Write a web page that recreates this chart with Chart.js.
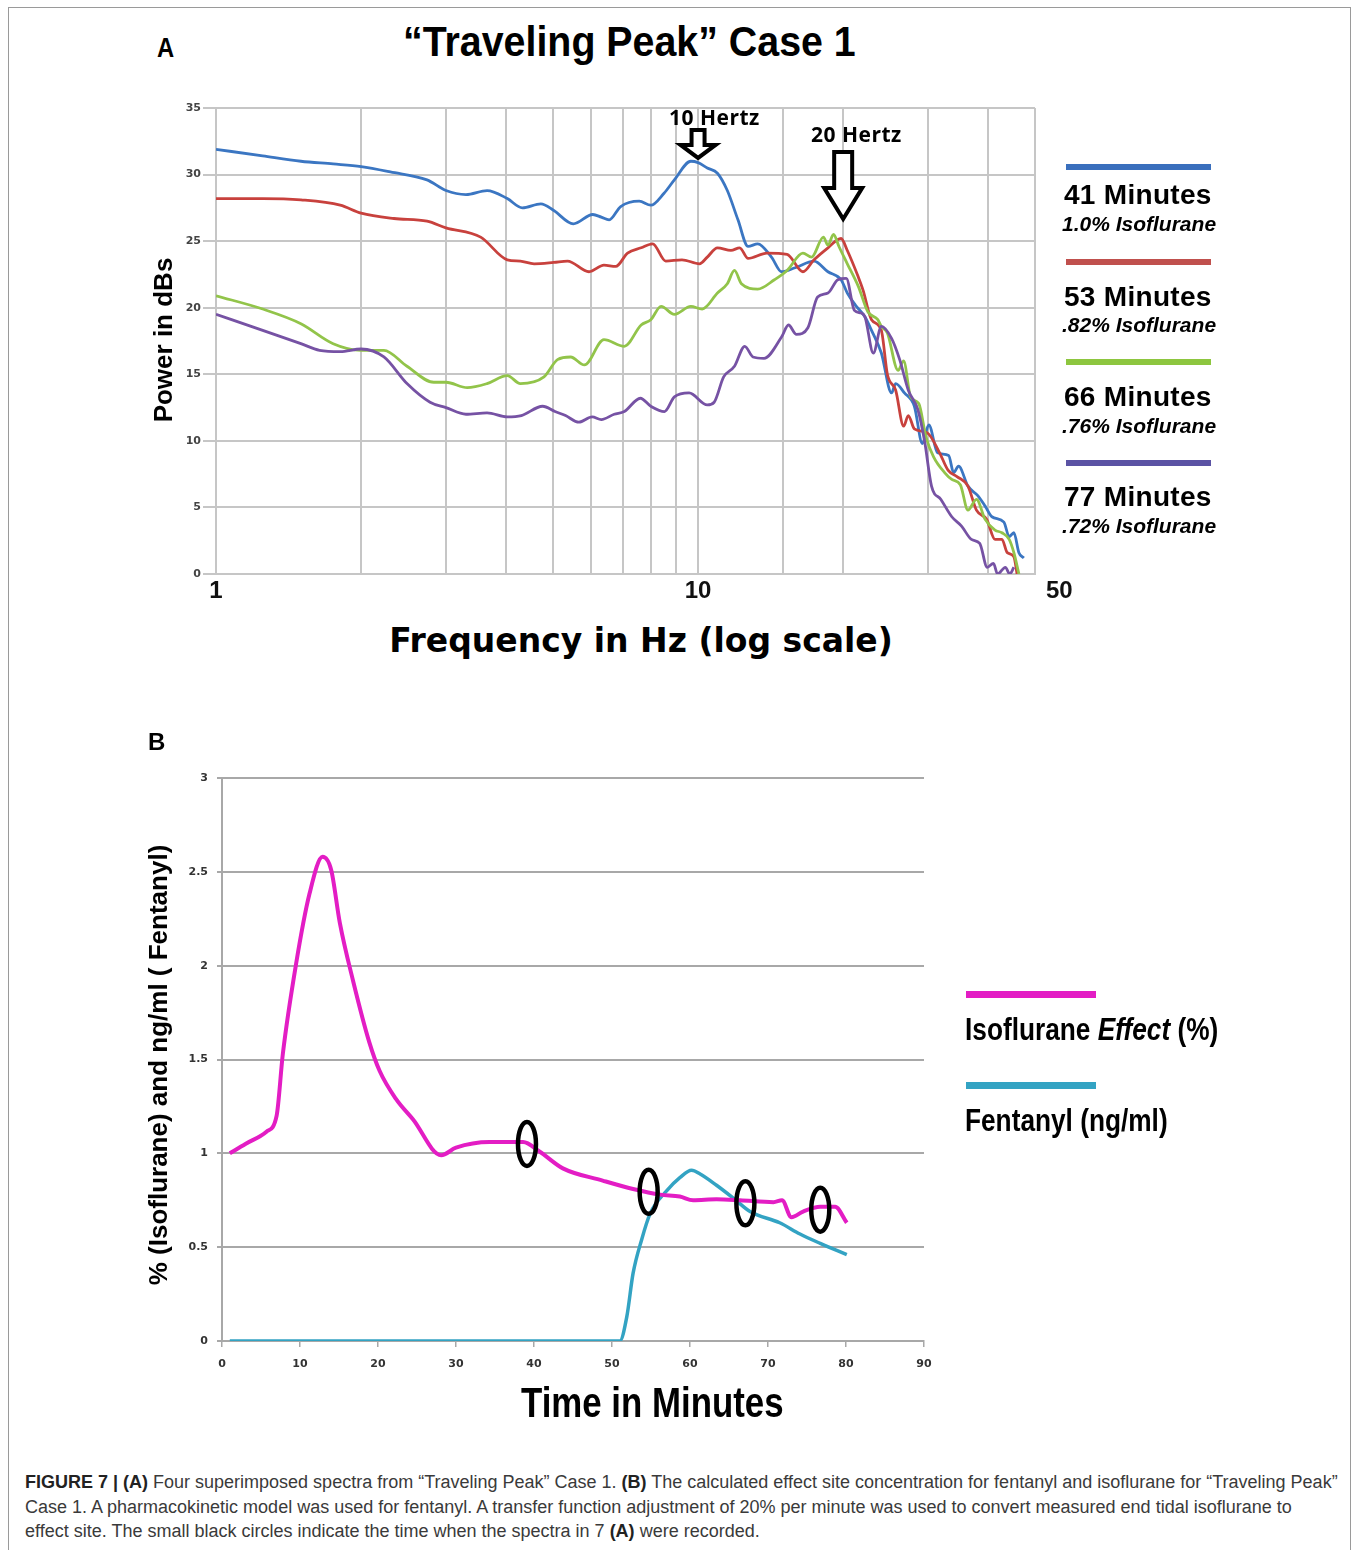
<!DOCTYPE html>
<html>
<head>
<meta charset="utf-8">
<script src="https://cdn.jsdelivr.net/npm/chart.js@4.4.1/dist/chart.umd.min.js"></script>
<style>
  body { margin: 0; background: #fff; }
  #page { position: relative; width: 1354px; height: 1550px; overflow: hidden; font-family: "Liberation Sans", Arial, sans-serif; color: #000; }
  .frame { position: absolute; left: 8px; top: 7px; width: 1343px; height: 1600px; border: 1px solid #9a9a9a; box-sizing: border-box; }
  .t { position: absolute; white-space: nowrap; line-height: 1; font-weight: bold; z-index: 2; }
  .narrow { transform-origin: 0 0; }
  .rot { transform: translate(-50%, -50%) rotate(-90deg); }
  .ctr { transform: translate(-50%, -50%); }
  canvas { position: absolute; z-index: 1; }
  .legbar { position: absolute; height: 6px; }
  #caption { position: absolute; left: 25px; top: 1470px; font-size: 18px; line-height: 24.5px; color: #3a3a3a; white-space: nowrap; }
  #caption b { color: #222; }
</style>
</head>
<body>
<div id="page">
  <div class="frame"></div>

  <div class="t narrow" style="left:157px; top:34px; font-size:28px; transform:scaleX(0.85)">A</div>
  <div class="t narrow" style="left:403px; top:20px; font-size:43px; transform:scaleX(0.915)">“Traveling Peak” Case 1</div>
  <div class="t" style="left:669px; top:107px; font-family:'Open Sans'; font-size:21px; letter-spacing:0.5px">10 Hertz</div>
  <div class="t" style="left:811px; top:124px; font-family:'Open Sans'; font-size:21px; letter-spacing:0.5px">20 Hertz</div>
  <div class="t rot" style="left:163px; top:340px; font-size:26px">Power in dBs</div>
  <div class="t ctr" style="left:641px; top:640px; font-family:'DejaVu Sans'; font-size:33px">Frequency in Hz (log scale)</div>
  <canvas id="chartA" width="960" height="524" style="left:140px; top:90px"></canvas>
  <div id="legendA"></div>

  <div class="t" style="left:148px; top:730px; font-size:24px">B</div>
  <div class="t rot" style="left:158px; top:1065px; font-size:26px">% (Isoflurane) and ng/ml ( Fentanyl)</div>
  <div class="t narrow" style="left:521px; top:1381px; font-size:43px; transform:scaleX(0.81)">Time in Minutes</div>
  <canvas id="chartB" width="830" height="621" style="left:140px; top:760px"></canvas>
  <div id="legendB"></div>

  <div id="caption"><b>FIGURE 7 | (A)</b> Four superimposed spectra from “Traveling Peak” Case 1. <b>(B)</b> The calculated effect site concentration for fentanyl and isoflurane for “Traveling Peak”<br>Case 1. A pharmacokinetic model was used for fentanyl. A transfer function adjustment of 20% per minute was used to convert measured end tidal isoflurane to<br>effect site. The small black circles indicate the time when the spectra in 7 <b>(A)</b> were recorded.</div>
</div>

<script>
// ---- panel A: spectra (frequency in Hz, power in dB) ----
const freq41 = [1, 1.25, 1.5, 1.75, 2, 2.3, 2.74, 3, 3.3, 3.65, 4.02, 4.32, 4.72, 5.02, 5.51, 6.05, 6.3, 6.54, 6.91, 7.55, 7.98, 8.5, 8.93, 9.66, 10.0, 10.45, 10.97, 11.5, 12.1, 12.7, 13.3, 14.2, 14.9, 15.9, 17.4, 18.6, 19.8, 20.4, 21.2, 22.2, 22.9, 24.0, 25.2, 25.7, 26.8, 28.1, 29.2, 30.1, 31.4, 33.1, 33.9, 34.7, 36.3, 38.0, 39.4, 40.7, 43.1, 44.2, 45.2, 46.3, 47.4];
const power41 = [31.9, 31.4, 31.0, 30.8, 30.6, 30.2, 29.6, 28.8, 28.5, 28.8, 28.2, 27.5, 27.8, 27.3, 26.3, 27.0, 26.8, 26.6, 27.6, 28.0, 27.7, 28.6, 29.6, 31.0, 30.9, 30.5, 30.1, 28.8, 26.6, 24.6, 24.8, 23.8, 22.7, 23.0, 23.5, 22.7, 22.1, 21.1, 20.2, 19.3, 18.3, 16.6, 13.6, 14.3, 13.6, 12.6, 9.8, 11.2, 9.1, 8.9, 7.6, 8.1, 6.6, 5.9, 5.1, 4.3, 3.9, 2.8, 3.1, 1.6, 1.2];

const freq53 = [1, 1.25, 1.5, 1.81, 2, 2.34, 2.74, 3, 3.54, 4.02, 4.28, 4.57, 5.02, 5.36, 5.94, 6.38, 6.75, 7.14, 7.62, 8.05, 8.57, 9.26, 10.07, 10.45, 10.97, 11.7, 12.2, 12.7, 13.9, 15.3, 16.5, 17.4, 18.6, 19.8, 20.4, 21.5, 22.0, 22.9, 24.0, 24.7, 25.7, 26.7, 27.3, 28.1, 29.9, 31.7, 33.0, 34.5, 36.3, 37.8, 39.7, 41.3, 42.7, 43.8, 45.2, 45.9];
const power53 = [28.2, 28.2, 28.1, 27.7, 27.1, 26.7, 26.5, 26.0, 25.3, 23.6, 23.5, 23.3, 23.4, 23.5, 22.7, 23.2, 23.1, 24.1, 24.5, 24.8, 23.5, 23.6, 23.3, 23.8, 24.5, 24.3, 24.5, 23.7, 24.1, 24.0, 22.7, 23.6, 24.5, 25.2, 24.3, 22.3, 21.3, 19.1, 18.3, 15.0, 13.8, 11.1, 11.9, 10.9, 10.6, 9.1, 7.8, 7.3, 6.6, 4.8, 4.1, 2.6, 2.6, 1.6, 1.3, 0];

const freq66 = [1, 1.25, 1.5, 1.75, 2, 2.23, 2.49, 2.83, 3, 3.32, 3.65, 4.02, 4.28, 4.79, 5.11, 5.44, 5.81, 6.38, 7.03, 7.62, 7.98, 8.38, 8.93, 9.66, 10.2, 10.97, 11.5, 11.9, 12.3, 13.3, 14.4, 15.3, 16.5, 17.2, 18.2, 18.6, 19.1, 19.6, 20.4, 21.5, 22.5, 23.6, 24.0, 24.7, 26.0, 26.7, 27.6, 28.7, 29.7, 30.8, 32.5, 33.6, 35.0, 36.3, 37.8, 39.4, 41.3, 42.7, 44.2, 45.2, 46.3];
const power66 = [20.9, 19.9, 18.8, 17.3, 16.8, 16.8, 15.6, 14.4, 14.4, 14.0, 14.3, 14.9, 14.3, 14.8, 16.1, 16.3, 15.7, 17.6, 17.1, 18.7, 19.1, 20.1, 19.5, 20.1, 19.9, 21.1, 21.8, 22.8, 21.8, 21.4, 22.1, 22.8, 24.1, 23.8, 25.3, 24.7, 25.5, 24.6, 23.3, 21.6, 19.7, 19.1, 18.6, 18.1, 15.3, 16.0, 13.3, 12.8, 10.3, 8.8, 7.6, 7.1, 6.7, 4.8, 5.6, 4.1, 3.3, 3.1, 2.6, 1.6, 0];

const freq77 = [1, 1.25, 1.5, 1.64, 1.81, 2, 2.23, 2.49, 2.78, 3, 3.3, 3.65, 4.02, 4.3, 4.76, 5.05, 5.31, 5.66, 6.03, 6.3, 6.7, 7.03, 7.59, 7.98, 8.52, 8.93, 9.58, 10.45, 10.8, 11.3, 11.9, 12.5, 13.0, 13.7, 14.9, 15.4, 16.0, 16.9, 17.7, 18.6, 19.5, 20.3, 21.1, 21.8, 22.2, 23.1, 24.0, 25.2, 26.2, 27.3, 28.6, 29.5, 30.5, 31.9, 33.6, 35.2, 36.9, 38.4, 39.8, 41.0, 41.8, 43.4, 44.3, 45.2];
const power77 = [19.5, 18.3, 17.3, 16.8, 16.7, 16.9, 16.3, 14.3, 12.9, 12.5, 12.0, 12.1, 11.8, 11.9, 12.6, 12.2, 11.9, 11.4, 11.8, 11.6, 12.0, 12.2, 13.2, 12.6, 12.2, 13.3, 13.6, 12.7, 12.9, 14.8, 15.6, 17.1, 16.3, 16.2, 17.8, 18.7, 18.0, 18.5, 20.8, 21.1, 22.1, 22.2, 19.8, 19.6, 19.3, 16.6, 18.6, 17.7, 16.1, 13.8, 12.3, 10.0, 6.6, 5.6, 4.3, 3.6, 2.6, 2.3, 0.5, 0.8, 0, 0.5, 0, 0.5];

const minuteLabels = ["41 Minutes", "53 Minutes", "66 Minutes", "77 Minutes"];
const isoLabels = ["1.0% Isoflurane", ".82% Isoflurane", ".76% Isoflurane", ".72% Isoflurane"];
const freqTickLabels = [1, 10, 50];
const arrowFreqs = [10, 20];
const arrowTops = [33.35, 31.7];   // dB, where the arrow shaft starts
const arrowTips = [31.25, 26.66];  // dB, where the arrow points

// ---- panel B: effect site concentrations over time (minutes) ----
const timeIso = [1, 3, 5.7, 7, 7.8, 9.5, 11.2, 12.9, 14, 15.1, 16.8, 18.9, 20.2, 22.3, 24.5, 28.1, 30, 34.3, 38.6, 40.7, 43.7, 48.8, 52.7, 56.2, 58.7, 60.4, 63.4, 66.4, 70.7, 71.8, 73, 74.5, 76.7, 78.6, 80.1];
const isoEffect = [1.0, 1.05, 1.115, 1.2, 1.53, 2.01, 2.38, 2.58, 2.51, 2.23, 1.92, 1.59, 1.44, 1.29, 1.18, 0.99, 1.03, 1.06, 1.06, 1.01, 0.92, 0.855, 0.81, 0.78, 0.77, 0.75, 0.755, 0.75, 0.74, 0.75, 0.66, 0.69, 0.715, 0.715, 0.63];
const timeFent = [1, 50, 51, 51.9, 52.7, 53.8, 54.9, 57, 58.7, 60.2, 61.3, 63.4, 65.6, 67.7, 71.5, 74.1, 76.7, 80.1];
const fentanyl = [0, 0, 0, 0.13, 0.36, 0.54, 0.68, 0.80, 0.87, 0.91, 0.89, 0.83, 0.76, 0.69, 0.63, 0.57, 0.52, 0.46];
const circleTimes = [39.1, 54.7, 67.1, 76.7];
const circleLevels = [1.05, 0.795, 0.734, 0.70];
const legendBLabels = ["Isoflurane <i>Effect</i> (%)", "Fentanyl (ng/ml)"];

// styles
const lineColors = ["#3b76c2", "#c8413d", "#92c44a", "#7652a4"];
const barColors = ["#3a6fbd", "#c0504d", "#8dc63f", "#5b53a4"];
const colorsB = ["#e31dc4", "#33a3c3"];
const gridA = "#c6c6c6";
const gridB = "#a8a8a8";

function pts(xs, ys) {
  return xs.map((v, i) => ({ x: v, y: ys[i] }));
}

// legend for panel A (bar centre, name centre, dose centre in px)
const legendA = document.getElementById("legendA");
const barMid = [167, 262, 362, 463];
const nameMid = [195, 296.5, 396.5, 496.5];
const doseMid = [223, 324, 425, 525];
minuteLabels.forEach((lab, i) => {
  legendA.insertAdjacentHTML("beforeend",
    `<div class="legbar" style="left:1066px; top:${barMid[i] - 3}px; width:145px; background:${barColors[i]}"></div>` +
    `<div class="t" style="left:1064px; top:${nameMid[i] - 13.7}px; font-size:28px; letter-spacing:0.3px">${lab}</div>` +
    `<div class="t" style="left:1062px; top:${doseMid[i] - 10.3}px; font-size:21px; font-style:italic">${isoLabels[i]}</div>`);
});

// legend for panel B
const legendB = document.getElementById("legendB");
const legBTops = [991, 1082];
legendBLabels.forEach((lab, i) => {
  const top = legBTops[i];
  legendB.insertAdjacentHTML("beforeend",
    `<div class="legbar" style="left:966px; top:${top}px; width:130px; height:7px; background:${colorsB[i]}"></div>` +
    `<div class="t narrow" style="left:965px; top:${top + 22}px; font-size:32px; transform:scaleX(0.82)">${lab}</div>`);
});

const arrowPlugin = {
  id: "arrows",
  afterDatasetsDraw(chart) {
    const { ctx, scales: { x, y } } = chart;
    const shaftHalf = [6.5, 9], headHalf = [17.5, 19], headLen = [13, 31];
    ctx.save();
    arrowFreqs.forEach((f, i) => {
      const cx = x.getPixelForValue(f);
      const top = y.getPixelForValue(arrowTops[i]);
      const tip = y.getPixelForValue(arrowTips[i]);
      const hs = tip - headLen[i];
      ctx.beginPath();
      ctx.moveTo(cx - shaftHalf[i], top);
      ctx.lineTo(cx + shaftHalf[i], top);
      ctx.lineTo(cx + shaftHalf[i], hs);
      ctx.lineTo(cx + headHalf[i], hs);
      ctx.lineTo(cx, tip);
      ctx.lineTo(cx - headHalf[i], hs);
      ctx.lineTo(cx - shaftHalf[i], hs);
      ctx.closePath();
      ctx.fillStyle = "#fff";
      ctx.fill();
      ctx.lineWidth = 4;
      ctx.lineJoin = "miter";
      ctx.strokeStyle = "#000";
      ctx.stroke();
    });
    ctx.restore();
  }
};

const freqLabelPlugin = {
  id: "freqLabels",
  afterDraw(chart) {
    const { ctx, chartArea, scales: { x } } = chart;
    ctx.save();
    ctx.font = 'bold 24px "Liberation Sans"';
    ctx.fillStyle = "#111";
    freqTickLabels.forEach(v => {
      const px = x.getPixelForValue(v);
      const atEnd = v === x.max;
      ctx.textAlign = atEnd ? "left" : "center";
      ctx.fillText(String(v), atEnd ? px + 11 : px, chartArea.bottom + 24);
    });
    ctx.restore();
  }
};

const circlePlugin = {
  id: "circles",
  afterDatasetsDraw(chart) {
    const { ctx, scales: { x, y } } = chart;
    ctx.save();
    ctx.lineWidth = 4.5;
    ctx.strokeStyle = "#000";
    circleTimes.forEach((t, i) => {
      ctx.beginPath();
      ctx.ellipse(x.getPixelForValue(t), y.getPixelForValue(circleLevels[i]), 9, 22, 0, 0, Math.PI * 2);
      ctx.stroke();
    });
    ctx.restore();
  }
};

const tickFont = { family: "DejaVu Sans", weight: "bold", size: 11 };

new Chart(document.getElementById("chartA"), {
  type: "line",
  data: {
    datasets: [
      { data: pts(freq41, power41), borderColor: lineColors[0], order: 4 },
      { data: pts(freq53, power53), borderColor: lineColors[1], order: 3 },
      { data: pts(freq66, power66), borderColor: lineColors[2], order: 2 },
      { data: pts(freq77, power77), borderColor: lineColors[3], order: 1 }
    ]
  },
  options: {
    responsive: false,
    animation: false,
    layout: { padding: { top: 18, right: 65, left: 0, bottom: 0 } },
    elements: {
      point: { radius: 0 },
      line: { borderWidth: 2.8, cubicInterpolationMode: "monotone", fill: false }
    },
    plugins: { legend: { display: false }, tooltip: { enabled: false } },
    scales: {
      x: {
        type: "logarithmic", min: 1, max: 50,
        ticks: { display: false },
        grid: { color: gridA, lineWidth: 2, drawTicks: false },
        border: { color: gridA, width: 2 },
        afterFit: s => { s.height = 40; }
      },
      y: {
        min: 0, max: 35,
        ticks: { stepSize: 5, color: "#444", font: tickFont, padding: 2 },
        grid: { color: gridA, lineWidth: 2, tickLength: 13 },
        border: { color: gridA, width: 2 },
        afterFit: s => { s.width = 76; }
      }
    }
  },
  plugins: [arrowPlugin, freqLabelPlugin]
});

new Chart(document.getElementById("chartB"), {
  type: "line",
  data: {
    datasets: [
      { data: pts(timeIso, isoEffect), borderColor: colorsB[0], borderWidth: 4 },
      { data: pts(timeFent, fentanyl), borderColor: colorsB[1], borderWidth: 3.5 }
    ]
  },
  options: {
    responsive: false,
    animation: false,
    layout: { padding: { top: 18, right: 46, left: 0, bottom: 0 } },
    elements: {
      point: { radius: 0 },
      line: { cubicInterpolationMode: "monotone", fill: false }
    },
    plugins: { legend: { display: false }, tooltip: { enabled: false } },
    scales: {
      x: {
        type: "linear", min: 0, max: 90,
        ticks: { stepSize: 10, color: "#333", font: tickFont, padding: 11 },
        grid: { drawOnChartArea: false, color: gridB, lineWidth: 1.5, tickLength: 6 },
        border: { color: gridB, width: 2 },
        afterFit: s => { s.height = 40; }
      },
      y: {
        min: 0, max: 3,
        ticks: { stepSize: 0.5, color: "#333", font: tickFont, padding: 9, callback: v => String(v) },
        grid: { color: gridB, lineWidth: 2, tickLength: 5 },
        border: { color: gridB, width: 2 },
        afterFit: s => { s.width = 82; }
      }
    }
  },
  plugins: [circlePlugin]
});
</script>
</body>
</html>
